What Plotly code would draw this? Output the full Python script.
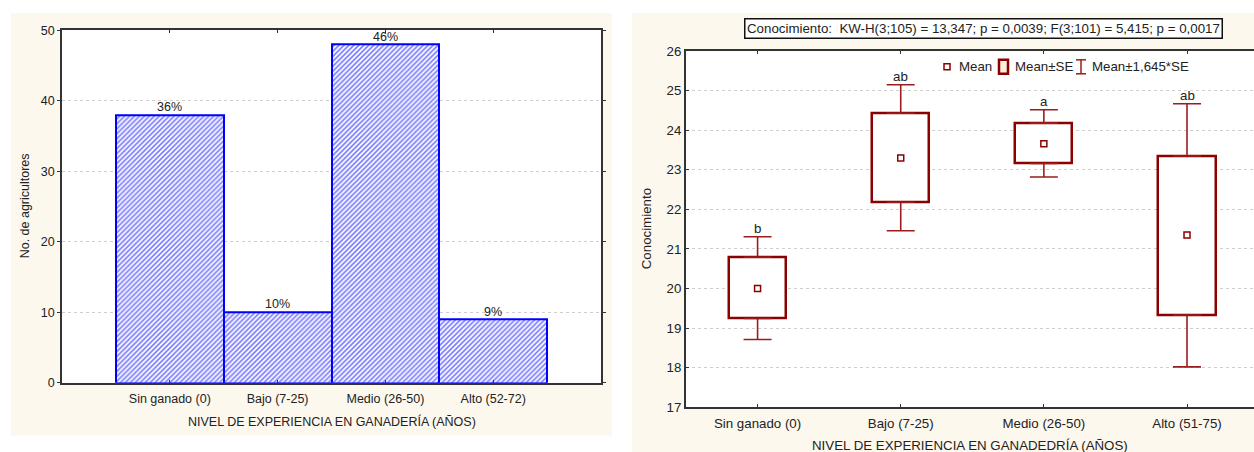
import plotly.graph_objects as go

# ---------------- data ----------------
cats_left = ["Sin ganado (0)", "Bajo (7-25)", "Medio (26-50)", "Alto (52-72)"]
counts = [38, 10, 48, 9]
pct_labels = ["36%", "10%", "46%", "9%"]

cats_right = ["Sin ganado (0)", "Bajo (7-25)", "Medio (26-50)", "Alto (51-75)"]
means = [20.00, 23.30, 23.66, 21.35]
se_low = [19.24, 22.18, 23.16, 19.33]
se_high = [20.79, 24.43, 24.18, 23.35]
ci_low = [18.71, 21.46, 22.82, 18.02]
ci_high = [21.31, 25.15, 24.52, 24.67]
letters = ["b", "ab", "a", "ab"]

title_right = ("Conocimiento:\u00a0\u00a0KW-H(3;105) = 13,347; p = 0,0039; "
               "F(3;101) = 5,415; p = 0,0017")

# ---------------- layout helpers ----------------
W, H = 1254, 466
Y_OFF, Y_SCALE = 6.0, 0.971   # observed screen mapping of figure rows
def px(x):
    return x / W
def py(y_img):
    yf = (y_img - Y_OFF) / Y_SCALE
    return 1 - yf / H

FONT = "Liberation Sans, Arial, sans-serif"
DARKRED = "#8b0000"
WHISK = "#9b1c1c"
CREAM = "#fdf8ee"
TXT = "#222222"
FSL = 12.5
FSR = 13.3

fig = go.Figure()

fig.add_trace(go.Bar(
    x=cats_left, y=counts, width=1, xaxis="x", yaxis="y",
    marker=dict(color="white",
                line=dict(color="#0000ff", width=2),
                pattern=dict(shape="/", fgcolor="#0000ff", bgcolor="white",
                             size=3.5, solidity=0.5)),
    showlegend=False, hoverinfo="skip"))

box_h = [h - l for h, l in zip(se_high, se_low)]
fig.add_trace(go.Bar(
    x=cats_right, y=box_h, base=se_low, width=0.4, xaxis="x2", yaxis="y2",
    marker=dict(color="white", line=dict(color=DARKRED, width=2.5)),
    showlegend=False, hoverinfo="skip"))

up_len = [c - s for c, s in zip(ci_high, se_high)]
lo_len = [s - c for s, c in zip(se_low, ci_low)]
fig.add_trace(go.Scatter(
    x=cats_right, y=se_high, mode="markers", xaxis="x2", yaxis="y2",
    marker=dict(size=1, color="rgba(0,0,0,0)"),
    error_y=dict(type="data", symmetric=False, array=up_len,
                 arrayminus=[0] * len(up_len), color=WHISK,
                 thickness=1.6, width=14),
    showlegend=False, hoverinfo="skip"))
fig.add_trace(go.Scatter(
    x=cats_right, y=se_low, mode="markers", xaxis="x2", yaxis="y2",
    marker=dict(size=1, color="rgba(0,0,0,0)"),
    error_y=dict(type="data", symmetric=False, array=[0] * len(lo_len),
                 arrayminus=lo_len, color=WHISK,
                 thickness=1.6, width=14),
    showlegend=False, hoverinfo="skip"))

fig.add_trace(go.Scatter(
    x=cats_right, y=means, mode="markers", xaxis="x2", yaxis="y2",
    marker=dict(symbol="square-open", size=6, color=DARKRED,
                line=dict(width=1.5, color=DARKRED)),
    showlegend=False, hoverinfo="skip"))

def axis_common(fs):
    return dict(showline=True, linecolor="#333333", linewidth=1.5,
                tickcolor="#333333",
                tickfont=dict(family=FONT, size=fs, color=TXT),
                zeroline=False)

xl = dict(axis_common(FSL), domain=[px(62), px(601)], anchor="y",
          type="category", range=[-1, 4], ticks="inside", ticklen=3,
          mirror="ticks", ticklabelstandoff=3, showgrid=False)
yl = dict(axis_common(FSL), domain=[py(383), py(29.3)], anchor="x",
          range=[0, 50], dtick=10, ticks="outside", ticklen=3, mirror="ticks",
          showgrid=True, gridcolor="#cfcfcf", griddash="dot", gridwidth=1)
xr = dict(axis_common(FSR), domain=[px(686), 1.0], anchor="y2",
          type="category", range=[-0.5, 3.468], ticks="inside", ticklen=3,
          mirror="ticks", ticklabelstandoff=3, showgrid=False, linewidth=2)
yr = dict(axis_common(FSR), domain=[py(407.5), py(50.3)], anchor="x2",
          range=[17, 26], dtick=1, ticks="inside", ticklen=3, mirror=False,
          showgrid=True, gridcolor="#cfcfcf", griddash="dot", gridwidth=1,
          linewidth=2)

shapes = [
    dict(type="rect", xref="paper", yref="paper", x0=px(11), x1=px(612),
         y0=py(436), y1=py(12), fillcolor=CREAM, line=dict(width=0), layer="below"),
    dict(type="rect", xref="paper", yref="paper", x0=px(632), x1=1.0,
         y0=0.0, y1=py(12), fillcolor=CREAM, line=dict(width=0), layer="below"),
    dict(type="rect", xref="x domain", yref="y domain", x0=0, x1=1, y0=0, y1=1,
         fillcolor="white", line=dict(width=0), layer="below"),
    dict(type="rect", xref="x2 domain", yref="y2 domain", x0=0, x1=1, y0=0, y1=1,
         fillcolor="white", line=dict(width=0), layer="below"),
]

ly = 66
shapes += [
    dict(type="rect", xref="paper", yref="paper", x0=px(944), x1=px(950),
         y0=py(69), y1=py(63), fillcolor="white",
         line=dict(color=DARKRED, width=1.5)),
    dict(type="rect", xref="paper", yref="paper", x0=px(999), x1=px(1008),
         y0=py(73), y1=py(59), fillcolor="#fbeee0",
         line=dict(color=DARKRED, width=2.5)),
    dict(type="line", xref="paper", yref="paper", x0=px(1081), x1=px(1081),
         y0=py(73), y1=py(59), line=dict(color=WHISK, width=1.5)),
    dict(type="line", xref="paper", yref="paper", x0=px(1076), x1=px(1086),
         y0=py(59), y1=py(59), line=dict(color=WHISK, width=1.5)),
    dict(type="line", xref="paper", yref="paper", x0=px(1076), x1=px(1086),
         y0=py(73), y1=py(73), line=dict(color=WHISK, width=1.5)),
]

tfl = dict(family=FONT, size=FSL, color=TXT)
tfr = dict(family=FONT, size=FSR, color=TXT)
annotations = [
    dict(text="NIVEL DE EXPERIENCIA EN GANADERÍA (AÑOS)", xref="paper", yref="paper",
         x=px(332), y=py(422), showarrow=False, font=tfl,
         xanchor="center", yanchor="middle"),
    dict(text="No. de agricultores", xref="paper", yref="paper",
         x=px(25), y=py(206), showarrow=False, font=tfl, textangle=-90,
         xanchor="center", yanchor="middle"),
    dict(text="NIVEL DE EXPERIENCIA EN GANADEDRÍA (AÑOS)", xref="paper", yref="paper",
         x=px(970), y=py(446), showarrow=False, font=tfr,
         xanchor="center", yanchor="middle"),
    dict(text="Conocimiento", xref="paper", yref="paper",
         x=px(646), y=py(229), showarrow=False, font=tfr, textangle=-90,
         xanchor="center", yanchor="middle"),
    dict(text=title_right, xref="paper", yref="paper",
         x=px(983), y=py(28), showarrow=False, font=tfr,
         xanchor="center", yanchor="middle",
         bgcolor="white", bordercolor="#111111", borderwidth=1.5, borderpad=1.5),
    dict(text="Mean", xref="paper", yref="paper", x=px(957), y=py(ly),
         showarrow=False, font=tfr, xanchor="left", yanchor="middle"),
    dict(text="Mean±SE", xref="paper", yref="paper", x=px(1013), y=py(ly),
         showarrow=False, font=tfr, xanchor="left", yanchor="middle"),
    dict(text="Mean±1,645*SE", xref="paper", yref="paper", x=px(1090), y=py(ly),
         showarrow=False, font=tfr, xanchor="left", yanchor="middle"),
]

# bar percentage labels (left) and group letters (right), placed via axes
for c, v, t in zip(cats_left, counts, pct_labels):
    annotations.append(dict(text=t, x=c, y=v, xref="x", yref="y",
                            showarrow=False, font=tfl, xanchor="center",
                            yanchor="bottom", yshift=-1.2))
for c, v, t in zip(cats_right, ci_high, letters):
    annotations.append(dict(text=t, x=c, y=v, xref="x2", yref="y2",
                            showarrow=False, font=tfr, xanchor="center",
                            yanchor="bottom", yshift=-1))

fig.update_layout(
    width=W, height=H, margin=dict(l=0, r=0, t=0, b=0),
    paper_bgcolor="white", plot_bgcolor="white",
    xaxis=xl, yaxis=yl, xaxis2=xr, yaxis2=yr,
    shapes=shapes, annotations=annotations,
    showlegend=False, bargap=0,
    font=dict(family=FONT, size=FSL, color=TXT),
)

fig.write_html("out.html")
